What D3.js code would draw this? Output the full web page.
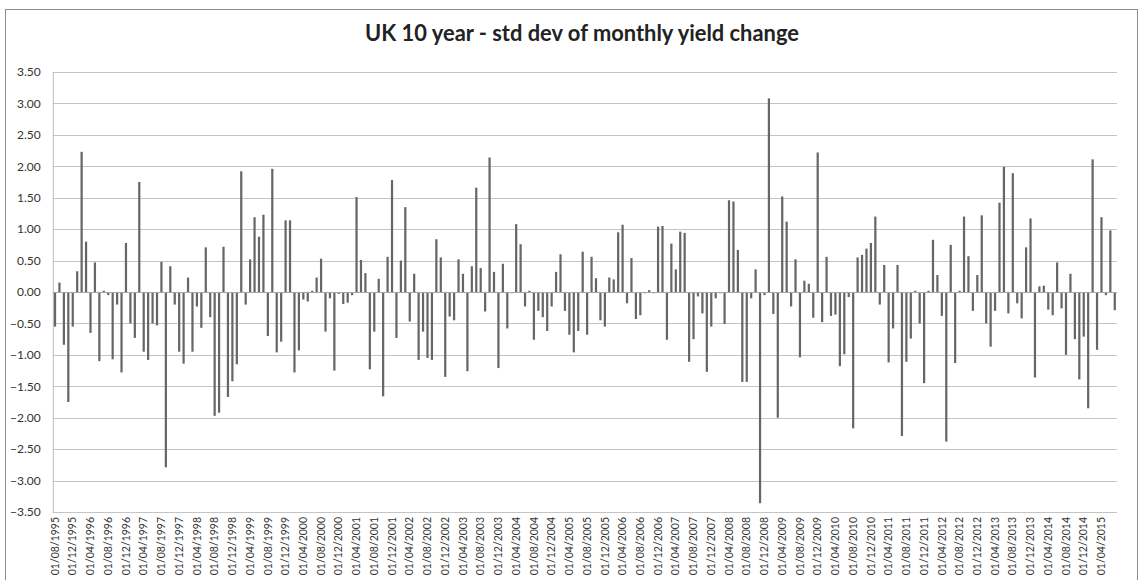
<!DOCTYPE html>
<html>
<head>
<meta charset="utf-8">
<script src="https://cdnjs.cloudflare.com/ajax/libs/d3/7.8.5/d3.min.js"></script>
<style>
  html, body { margin: 0; padding: 0; background: #fff; }
  svg { display: block; }
</style>
</head>
<body>
<svg id="chart" width="1142" height="580"></svg>
<script>
// Monthly standard deviation of UK 10-year gilt yield change, Aug 1995 – Jul 2015
const titleText = "UK 10 year - std dev of monthly yield change";

const startMonth = new Date(1995, 7, 1);
const endMonth = new Date(2015, 7, 1);
const months = d3.timeMonth.range(startMonth, endMonth);

const values = [
  -0.55, 0.15, -0.84, -1.75, -0.55, 0.33, 2.23, 0.80, -0.65, 0.47,
  -1.10, 0.02, -0.05, -1.07, -0.20, -1.28, 0.78, -0.50, -0.73, 1.75,
  -0.95, -1.08, -0.50, -0.53, 0.48, -2.79, 0.41, -0.20, -0.95, -1.14,
  0.23, -0.95, -0.23, -0.57, 0.71, -0.40, -1.97, -1.92, 0.72, -1.67,
  -1.42, -1.15, 1.92, -0.20, 0.52, 1.19, 0.88, 1.23, -0.70, 1.96,
  -0.96, -0.79, 1.14, 1.14, -1.28, -0.93, -0.12, -0.15, 0.02, 0.23,
  0.53, -0.63, -0.10, -1.25, -0.03, -0.19, -0.17, -0.05, 1.51, 0.51,
  0.30, -1.23, -0.63, 0.21, -1.66, 0.56, 1.78, -0.73, 0.50, 1.35,
  -0.47, 0.29, -1.08, -0.63, -1.05, -1.08, 0.84, 0.55, -1.35, -0.39,
  -0.45, 0.52, 0.29, -1.26, 0.41, 1.66, 0.38, -0.31, 2.14, 0.32,
  -1.21, 0.45, -0.58, -0.02, 1.08, 0.76, -0.23, 0.02, -0.76, -0.30,
  -0.40, -0.62, -0.23, 0.32, 0.60, -0.30, -0.68, -0.96, -0.62, 0.64,
  -0.68, 0.56, 0.22, -0.45, -0.55, 0.23, 0.20, 0.95, 1.07, -0.18,
  0.54, -0.43, -0.37, -0.02, 0.03, -0.02, 1.04, 1.05, -0.76, 0.77,
  0.36, 0.96, 0.94, -1.11, -0.75, -0.07, -0.34, -1.27, -0.55, -0.10,
  -0.02, -0.51, 1.46, 1.44, 0.67, -1.43, -1.43, -0.10, 0.36, -3.36,
  -0.05, 3.08, -0.35, -2.00, 1.52, 1.12, -0.23, 0.52, -1.04, 0.18,
  0.13, -0.41, 2.22, -0.48, 0.56, -0.38, -0.36, -1.18, -0.99, -0.08,
  -2.17, 0.55, 0.59, 0.69, 0.78, 1.20, -0.20, 0.43, -1.12, -0.58,
  0.43, -2.29, -1.11, -0.74, 0.02, -0.50, -1.45, 0.02, 0.83, 0.27,
  -0.38, -2.38, 0.75, -1.13, 0.02, 1.20, 0.57, -0.30, 0.27, 1.22,
  -0.50, -0.87, -0.30, 1.42, 1.99, -0.34, 1.89, -0.18, -0.42, 0.71,
  1.17, -1.36, 0.09, 0.10, -0.28, -0.37, 0.47, -0.26, -1.00, 0.29,
  -0.75, -1.39, -0.71, -1.85, 2.11, -0.92, 1.19, -0.05, 0.98, -0.29
];

const yTicks = [-3.5, -3.0, -2.5, -2.0, -1.5, -1.0, -0.5, 0, 0.5, 1.0, 1.5, 2.0, 2.5, 3.0, 3.5];
const labelEvery = 4;
const fmtDate = d3.timeFormat("%d/%m/%Y");
const tickIndex = d3.range(0, months.length, labelEvery);
const tickLabels = tickIndex.map(i => fmtDate(months[i]));

const data = months.map((m, i) => ({ i, month: m, value: values[i] }));

// Layout
const plot = { left: 52.8, right: 1117, top: 72, bottom: 512 };
const svg = d3.select("#chart");

svg.append("rect")
  .attr("x", 5.5).attr("y", 9.5)
  .attr("width", 1132).attr("height", 600)
  .attr("fill", "#fff").attr("stroke", "#8c8c8c").attr("stroke-width", 1);

const x = d3.scaleBand()
  .domain(d3.range(months.length))
  .range([plot.left, plot.right])
  .paddingInner(0.5)
  .paddingOuter(0.25);

const y = d3.scaleLinear().domain([-3.5, 3.5]).range([plot.bottom, plot.top]);

// Gridlines
svg.append("g")
  .selectAll("line")
  .data(yTicks)
  .join("line")
  .attr("x1", plot.left).attr("x2", plot.right)
  .attr("y1", d => Math.round(y(d)) + 0.5).attr("y2", d => Math.round(y(d)) + 0.5)
  .attr("stroke", "#c4c4c4").attr("stroke-width", 1);

// Value axis
const yAxis = svg.append("g")
  .attr("transform", `translate(${plot.left},0)`)
  .call(d3.axisLeft(y).tickValues(yTicks).tickFormat(d3.format(".2f")).tickSize(0).tickPadding(12));
yAxis.select(".domain").attr("stroke", "#bdbdbd");
yAxis.selectAll("text")
  .attr("font-family", "Lato, 'Open Sans', sans-serif")
  .attr("font-size", 12)
  .attr("fill", "#333");

// Bars
svg.append("g")
  .selectAll("rect")
  .data(data)
  .join("rect")
  .attr("x", d => x(d.i))
  .attr("width", x.bandwidth())
  .attr("y", d => y(Math.max(0, d.value)))
  .attr("height", d => Math.abs(y(d.value) - y(0)))
  .attr("fill", "#666666");

// Zero line
svg.append("line")
  .attr("x1", plot.left).attr("x2", plot.right)
  .attr("y1", Math.round(y(0)) + 0.5).attr("y2", Math.round(y(0)) + 0.5)
  .attr("stroke", "#a6a6a6").attr("stroke-width", 1);

// Category axis, labels at the bottom of the plot
const xAxis = svg.append("g")
  .attr("transform", `translate(0,${plot.bottom})`)
  .call(d3.axisBottom(x)
    .tickValues(tickIndex)
    .tickFormat((d, k) => tickLabels[k])
    .tickSize(0));
xAxis.select(".domain").remove();
xAxis.selectAll("text")
  .attr("font-family", "Lato, 'Open Sans', sans-serif")
  .attr("font-size", 10.5)
  .attr("fill", "#333")
  .attr("text-anchor", "end")
  .attr("transform", "rotate(-90)")
  .attr("x", -5)
  .attr("y", 0)
  .attr("dy", "0.35em");

// Title
const title = svg.append("text")
  .attr("x", 582).attr("y", 41)
  .attr("text-anchor", "middle")
  .attr("font-family", "Lato, 'Open Sans', sans-serif")
  .attr("font-weight", "bold")
  .attr("font-size", 19)
  .attr("fill", "#222")
  .text(titleText);
const tw = title.node().getComputedTextLength();
title.attr("font-size", 19 * 434 / tw);
</script>
</body>
</html>
